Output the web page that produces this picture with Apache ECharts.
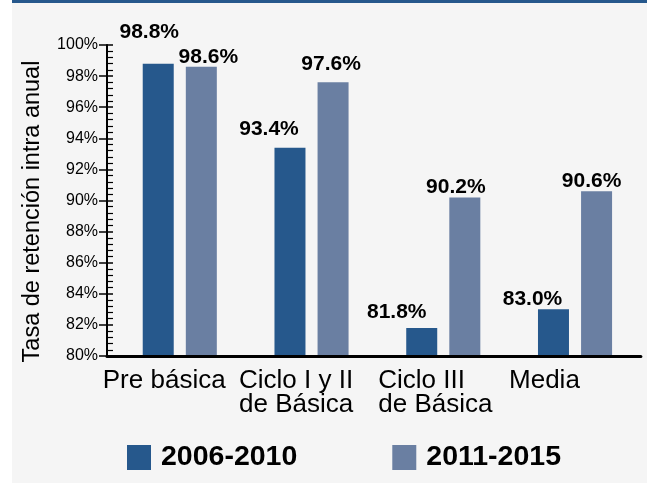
<!DOCTYPE html>
<html>
<head>
<meta charset="utf-8">
<script src="https://cdn.jsdelivr.net/npm/echarts@6/dist/echarts.min.js"></script>
<style>
  html, body { margin: 0; padding: 0; background: #ffffff; }
  #bg { position: absolute; left: 12px; top: 0; width: 635px; height: 480px; background: #f5f5f5; border-top: 3px solid #26588c; }
  #chart { position: absolute; left: 0; top: 0; width: 647px; height: 483px; }
</style>
</head>
<body>
<div id="bg"></div>
<div id="chart"></div>
<script>
// ---- data ----
var categories = ['Pre básica', 'Ciclo I y II\nde Básica', 'Ciclo III\nde Básica', 'Media'];
var seriesNames = ['2006-2010', '2011-2015'];
var values2006 = [98.8, 93.4, 81.8, 83.0];
var values2011 = [98.6, 97.6, 90.2, 90.6];
var labels2006 = ['98.8%', '93.4%', '81.8%', '83.0%'];
var labels2011 = ['98.6%', '97.6%', '90.2%', '90.6%'];
var yTicks = [80, 100, 2];

// ---- styling (positions of texts) ----
var labelOffset2006 = [[-9, -21], [-21, -8], [-25, -5], [-21, 0]];
var labelOffset2011 = [[7, 1], [-2, -8], [-9, 0], [-5, 1]];
var catLabelBoxWidth = [154, 145, 130, 132];

var FONT = "'Liberation Sans', Arial, sans-serif";
var dark = '#26588c', light = '#6a7fa2';

function makeData(vals, labs, offs) {
  return vals.map(function (v, i) {
    return { value: v, label: { formatter: labs[i], offset: offs[i] } };
  });
}

var rich = {};
catLabelBoxWidth.forEach(function (w, i) {
  rich['c' + i] = { width: w, align: 'left', fontSize: 26, lineHeight: 24, color: '#000', fontFamily: FONT };
});

var chart = echarts.init(document.getElementById('chart'), null, { renderer: 'canvas' });
var option = {
  backgroundColor: 'transparent',
  animation: false,
  textStyle: { fontFamily: FONT },
  grid: [
    { left: 113.9, right: 6.1, top: 45, bottom: 127 },
    { left: 107, right: 6.1, top: 45, bottom: 127 }
  ],
  legend: {
    data: seriesNames,
    icon: 'rect',
    itemWidth: 24,
    itemHeight: 25,
    itemGap: 95,
    left: 122,
    top: 438,
    textStyle: { fontSize: 28.5, fontWeight: 'bold', color: '#000', fontFamily: FONT, padding: [0, 0, 0, 5] }
  },
  xAxis: [
    {
      gridIndex: 0, type: 'category', data: categories,
      axisLine: { show: false }, axisTick: { show: false },
      axisLabel: {
        interval: 0, margin: 13, align: 'center', color: '#000',
        formatter: function (value, index) {
          return value.split('\n').map(function (l) { return '{c' + index + '|' + l + '}'; }).join('\n');
        },
        rich: rich
      }
    },
    {
      gridIndex: 1, type: 'value', min: 0, max: 1, z: 5,
      axisLine: { show: true, onZero: false, lineStyle: { color: '#000', width: 3 } },
      axisTick: { show: false }, axisLabel: { show: false }, splitLine: { show: false }
    }
  ],
  yAxis: [
    {
      gridIndex: 0, type: 'value', min: yTicks[0], max: yTicks[1], interval: yTicks[2],
      show: false
    },
    {
      gridIndex: 1, type: 'value', min: yTicks[0], max: yTicks[1], interval: yTicks[2], position: 'left',
      name: 'Tasa de retención intra anual', nameLocation: 'middle', nameGap: 62,
      nameTextStyle: { fontSize: 23.5, color: '#000', fontFamily: FONT, padding: [0, 22, 0, 0] },
      axisLine: { show: true, onZero: false, lineStyle: { color: '#000', width: 2 } },
      axisTick: { show: true, inside: false, length: 8, lineStyle: { color: '#000', width: 1.5 } },
      axisLabel: { margin: 9, fontSize: 16, color: '#000', formatter: '{value}%' },
      splitLine: { show: false }
    },
    {
      gridIndex: 1, type: 'value', min: yTicks[0], max: yTicks[1], interval: yTicks[2], position: 'left',
      axisLine: { show: false },
      axisTick: { show: true, inside: true, length: 6, lineStyle: { color: '#000', width: 1.5 } },
      minorTick: { show: true, splitNumber: 5, length: 6, lineStyle: { color: '#000', width: 1.2 } },
      axisLabel: { show: false },
      splitLine: { show: false }
    }
  ],
  series: [
    {
      name: seriesNames[0], type: 'bar', xAxisIndex: 0, yAxisIndex: 0,
      data: makeData(values2006, labels2006, labelOffset2006),
      barWidth: 31, barGap: '39%',
      itemStyle: { color: dark },
      label: { show: true, position: 'top', distance: 0, fontSize: 21, fontWeight: 'bold', color: '#000', fontFamily: FONT }
    },
    {
      name: seriesNames[1], type: 'bar', xAxisIndex: 0, yAxisIndex: 0,
      data: makeData(values2011, labels2011, labelOffset2011),
      barWidth: 31, barGap: '39%',
      itemStyle: { color: light },
      label: { show: true, position: 'top', distance: 0, fontSize: 21, fontWeight: 'bold', color: '#000', fontFamily: FONT }
    }
  ]
};
chart.setOption(option);
</script>
</body>
</html>
